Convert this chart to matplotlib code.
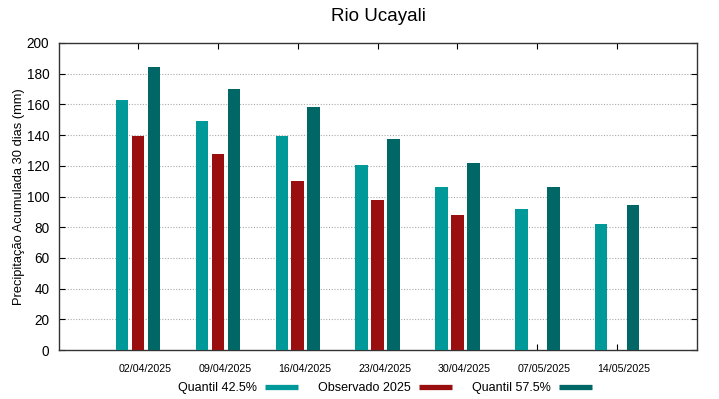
import numpy as np
import matplotlib
matplotlib.use("Agg")
import matplotlib.pyplot as plt
import matplotlib.transforms as mtransforms
from matplotlib.lines import Line2D

plt.rcParams['font.family'] = ['Liberation Sans', 'DejaVu Sans']

dates = ["02/04/2025", "09/04/2025", "16/04/2025", "23/04/2025",
         "30/04/2025", "07/05/2025", "14/05/2025"]
q425 = [163, 149.5, 139.5, 120.5, 106.5, 92, 82]
obs2025 = [139.5, 127.5, 110, 97.5, 88, np.nan, np.nan]
q575 = [184.5, 170, 158.5, 137.5, 121.5, 106.5, 94.5]

c_q425 = "#009999"
c_obs = "#990f0f"
c_q575 = "#006666"

fig = plt.figure(figsize=(7.19, 3.99), dpi=100)
ax = fig.add_axes([59/719, 49/399, (697-59)/719, (350-43)/399])

x = np.arange(len(dates))
w = 0.157
off = 0.2
ax.bar(x - off, q425, w, color=c_q425, zorder=3)
ax.bar(x, obs2025, w, color=c_obs, zorder=3)
ax.bar(x + off, q575, w, color=c_q575, zorder=3)

ax.set_xlim(-0.99, 7.0)
ax.set_ylim(0, 200)
ax.set_yticks(np.arange(0, 201, 20))
ax.set_xticks(x)
ax.set_xticklabels(dates, fontsize=7.7)
ax.tick_params(axis='x', direction='in', top=True, bottom=True, pad=10, length=4)
ax.tick_params(axis='y', direction='in', left=True, right=True, labelsize=9.8,
               length=4, pad=7)
shift = mtransforms.ScaledTranslation(7/100, 0, fig.dpi_scale_trans)
for t in ax.get_xticklabels():
    t.set_transform(t.get_transform() + shift)
for sp in ax.spines.values():
    sp.set_color("#333333")
    sp.set_linewidth(1.0)

for v in range(20, 200, 20):
    ax.axhline(v, color="#aaaaaa", linestyle=(0, (1, 1.5)), linewidth=0.8, zorder=1)

ax.set_ylabel("Precipitação Acumulada 30 dias (mm)", fontsize=9.3, labelpad=1.5)
fig.text(378/719, 1 - 21/399, "Rio Ucayali", fontsize=13.5, ha='center', va='baseline')

handles = [Line2D([], [], color=c_q425, lw=3.8, solid_capstyle='butt'),
           Line2D([], [], color=c_obs, lw=3.8, solid_capstyle='butt'),
           Line2D([], [], color=c_q575, lw=3.8, solid_capstyle='butt')]
labels = ["Quantil 42.5%", "Observado 2025", "Quantil 57.5%"]
fig.legend(handles, labels, loc='center', bbox_to_anchor=(385/719, 1-388/399),
           ncol=3, frameon=False, markerfirst=False, fontsize=9,
           handlelength=2.64, columnspacing=1.6, handletextpad=0.64,
           borderpad=0, borderaxespad=0)

fig.savefig("out.png", dpi=100)
